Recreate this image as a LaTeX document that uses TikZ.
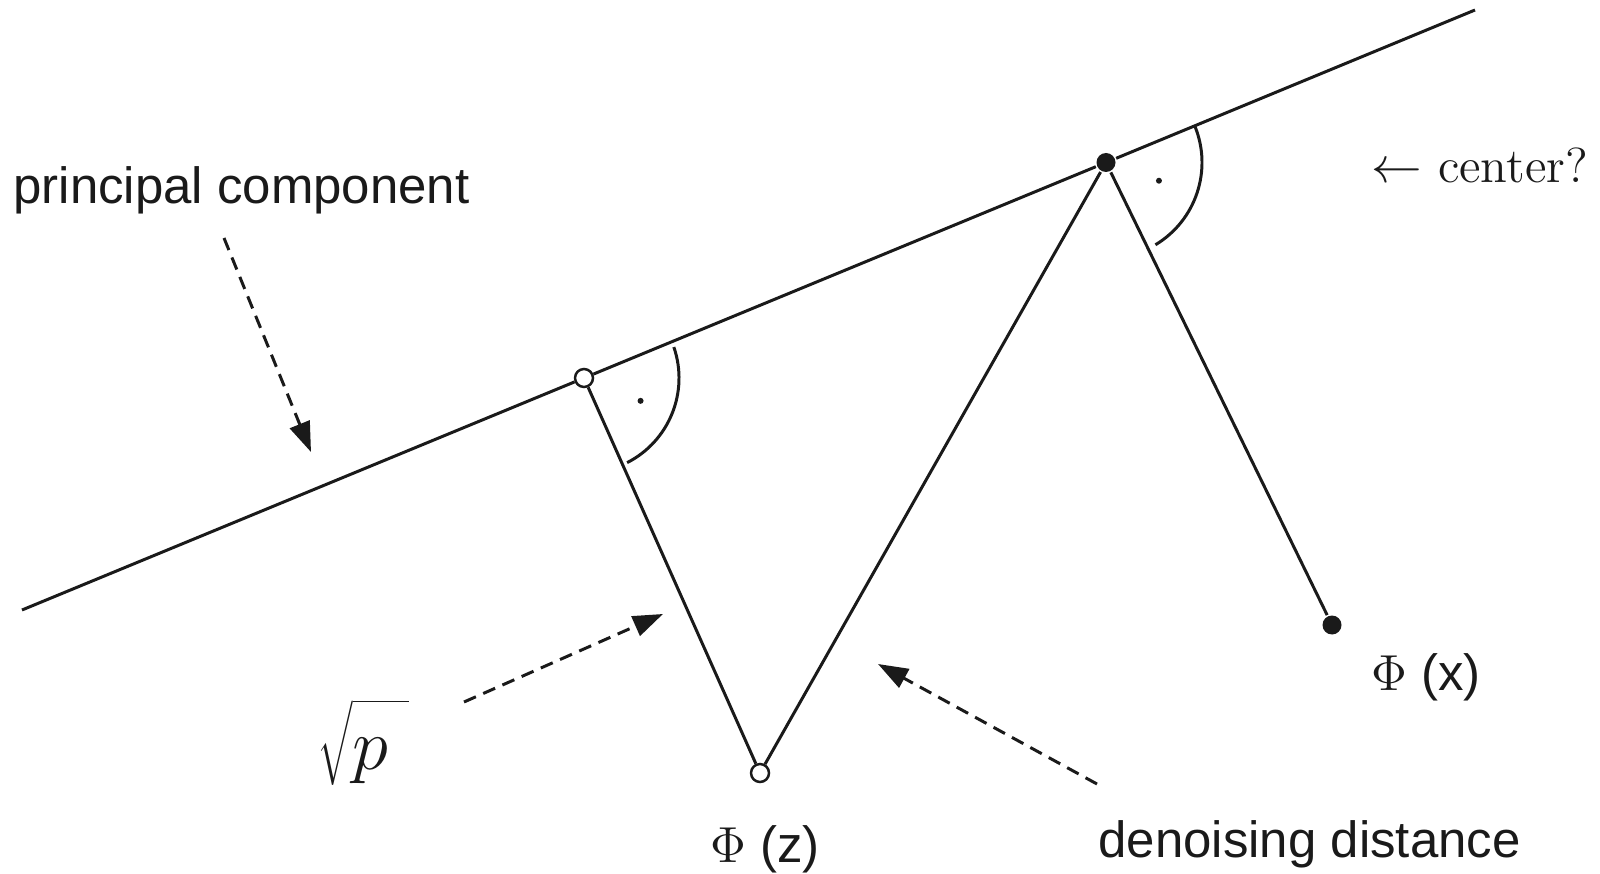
\documentclass[tikz,border=0pt]{standalone}
\usepackage{fontspec}
\setsansfont{Liberation Sans}
\usetikzlibrary{arrows.meta, calc}
\definecolor{ink}{HTML}{1A1A1A}

\begin{document}
\begin{tikzpicture}[x=0.1mm, y=-0.1mm, line width=0.85pt, draw=ink, >={Triangle[length=3mm, width=2.1mm]},
    o/.style={circle, draw=ink, fill=white, line width=0.7pt, inner sep=0pt, minimum size=1.8mm},
    f/.style={circle, fill=ink, inner sep=0pt, minimum size=1.9mm},
    lab/.style={text=ink, font=\sffamily\fontsize{14.5}{17}\selectfont, inner sep=0pt},
    da/.style={->, ink, dash pattern=on 1.3mm off 0.8mm}]
  \useasboundingbox (0,0) rectangle (1600,874);

  % the component line and the four points
  \coordinate (P0) at (22,610);
  \coordinate (P1) at (1475,10);
  \node[o] (A) at (584,378) {};
  \node[f] (B) at (1106,162.5) {};
  \node[o] (Z) at (760,773) {};
  \node[f] (X) at (1332,625) {};

  \draw[ink] (P0) -- (A);
  \draw[ink] (A) -- (B);
  \draw[ink] (B) -- (P1);
  \draw[ink] (A) -- (Z);
  \draw[ink] (Z) -- (B);
  \draw[ink] (B) -- (X);

  % right angles
  \draw[ink] (A) ++(-19:95) arc[start angle=-19, end angle=63, radius=95];
  \fill[ink] (A) ++(22:61) circle[radius=3];
  \draw[ink] (B) ++(-22:96) arc[start angle=-22, end angle=59, radius=96];
  \fill[ink] (B) ++(19:56) circle[radius=3];

  % labels
  \node[lab, anchor=base west] (pc) at (12,204) {principal component};
  \node[text=ink, font=\fontsize{14}{17}\selectfont, inner sep=0pt, anchor=base west] (ctr) at (1370,183) {$\leftarrow$ center?};
  \node[lab, anchor=base west] (phx) at (1370,690) {$\Phi$ (x)};
  \node[lab, anchor=base west] (phz) at (709,862) {$\Phi$ (z)};
  \node[lab, anchor=base west] (dd) at (1097,857) {denoising distance};
  \node[text=ink, font=\fontsize{20}{24}\selectfont, inner sep=0pt, anchor=base west] (sq) at (316,769)
    {$\sqrt{\rule[-0.2em]{0pt}{1.1em}p\;}$};

  % dashed pointers
  \coordinate (a1) at (224,238);
  \coordinate (b1) at (311,452);
  \coordinate (a2) at (464,702);
  \coordinate (b2) at (663,614);
  \coordinate (a3) at (1097,784);
  \coordinate (b3) at (878,664);
  \draw[da] (a1) -- (b1);
  \draw[da] (a2) -- (b2);
  \draw[da] (a3) -- (b3);
\end{tikzpicture}
\end{document}
